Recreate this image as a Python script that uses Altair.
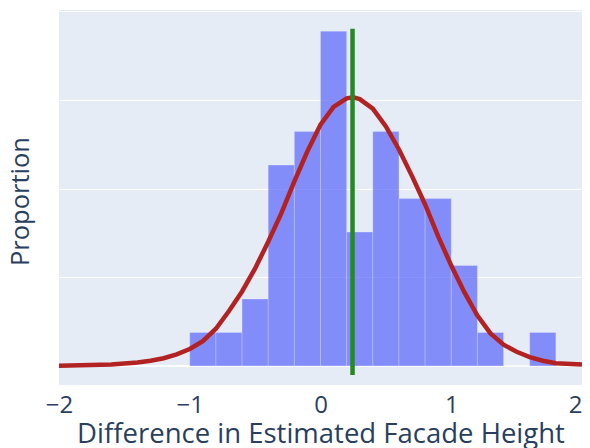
import altair as alt
import pandas as pd

# Histogram bins (left edges), counts per bin
bin_start = [-1.0, -0.8, -0.6, -0.4, -0.2, 0.0, 0.2, 0.4, 0.6, 0.8, 1.0, 1.2, 1.4, 1.6]
bin_counts = [1, 1, 2, 6, 7, 10, 4, 7, 5, 5, 3, 1, 0, 1]
bin_width = 0.2

# Fitted curve
curve_x = [-2.0, -1.6, -1.4, -1.3, -1.2, -1.1, -1.0, -0.9, -0.8, -0.7, -0.6, -0.5, -0.4,
           -0.3, -0.2, -0.1, 0.0, 0.1, 0.2, 0.25, 0.3, 0.4, 0.5, 0.6, 0.7, 0.8, 0.9,
           1.0, 1.1, 1.2, 1.3, 1.4, 1.5, 1.6, 1.7, 1.8, 2.0]
curve_y = [0.001, 0.004, 0.010, 0.015, 0.022, 0.033, 0.048, 0.070, 0.105, 0.155, 0.210,
           0.275, 0.350, 0.430, 0.520, 0.605, 0.680, 0.730, 0.754, 0.757, 0.752, 0.725,
           0.675, 0.610, 0.535, 0.455, 0.365, 0.283, 0.208, 0.142, 0.092, 0.060, 0.040,
           0.025, 0.015, 0.008, 0.004]

# Mean marker line
mean_x = 0.245
mean_line_y = [-0.025, 0.95]

x_ticks = [-2, -1, 0, 1, 2]
y_grid = [0, 0.25, 0.5, 0.75, 1.0]

n_total = sum(bin_counts)
hist = pd.DataFrame({
    "x0": bin_start,
    "x1": [b + bin_width for b in bin_start],
    "p": [c / (n_total * bin_width) for c in bin_counts],
})
curve = pd.DataFrame({"x": curve_x, "y": curve_y})
mean_df = pd.DataFrame({"x": [mean_x], "y0": [mean_line_y[0]], "y1": [mean_line_y[1]]})
zero_df = pd.DataFrame({"y": [0.0]})

FONT = "Open Sans"
TXT = "#2a3f5f"
W, H = 523, 375

xscale = alt.Scale(domain=[-2, 2], nice=False, zero=False)
yscale = alt.Scale(domain=[-0.0535, 1.003], nice=False, zero=False)

xaxis = alt.Axis(values=x_ticks, format="d", title="Difference in Estimated Facade Height",
                 grid=False, domain=False, ticks=False, labelFontSize=24, labelColor=TXT,
                 labelFont=FONT, labelBaseline="alphabetic", labelPadding=27,
                 labelAlign={"condition": {"test": "datum.value == 2", "value": "right"},
                             "value": "center"},
                 titleFontSize=27.5, titleColor=TXT, titleFont=FONT, titleFontWeight="normal",
                 titleBaseline="alphabetic", titleY=57, titleX=W / 2, titleAlign="center",
                 labelFlush=False)
yaxis = alt.Axis(values=y_grid, title="Proportion", grid=True, gridColor="white", gridWidth=1,
                 domain=False, ticks=False, labels=False, titleFontSize=25.5, titleColor=TXT,
                 titleFont=FONT, titleFontWeight="normal", titleBaseline="alphabetic",
                 titleAngle=270, titleX=-31, titleY=191, titleAlign="center")

zero = alt.Chart(zero_df).mark_rule(color="white", strokeWidth=2).encode(
    y=alt.Y("y:Q", scale=yscale, axis=yaxis)
)

bars = alt.Chart(hist).mark_rect(color="#636EFA", opacity=0.75, stroke="#E5ECF6",
                                  strokeWidth=0.5, strokeOpacity=0.6).encode(
    x=alt.X("x0:Q", scale=xscale, axis=xaxis),
    x2="x1:Q",
    y=alt.Y("p:Q", scale=yscale),
    y2=alt.datum(0),
)

line = alt.Chart(curve).mark_line(color="#B22222", strokeWidth=4.5).encode(
    x=alt.X("x:Q", scale=xscale),
    y=alt.Y("y:Q", scale=yscale),
)

mean_rule = alt.Chart(mean_df).mark_rule(color="#228B22", strokeWidth=4.5).encode(
    x=alt.X("x:Q", scale=xscale),
    y=alt.Y("y0:Q", scale=yscale),
    y2="y1:Q",
)

chart = alt.layer(zero, bars, line, mean_rule).properties(
    width=W, height=H,
    autosize=alt.AutoSizeParams(type="none"),
    padding={"left": 51, "top": 2, "right": 0, "bottom": 63},
    background="white",
).configure_view(fill="#E5ECF6", stroke=None)

chart.save("out.html", embed_options={"renderer": "svg", "actions": False})
